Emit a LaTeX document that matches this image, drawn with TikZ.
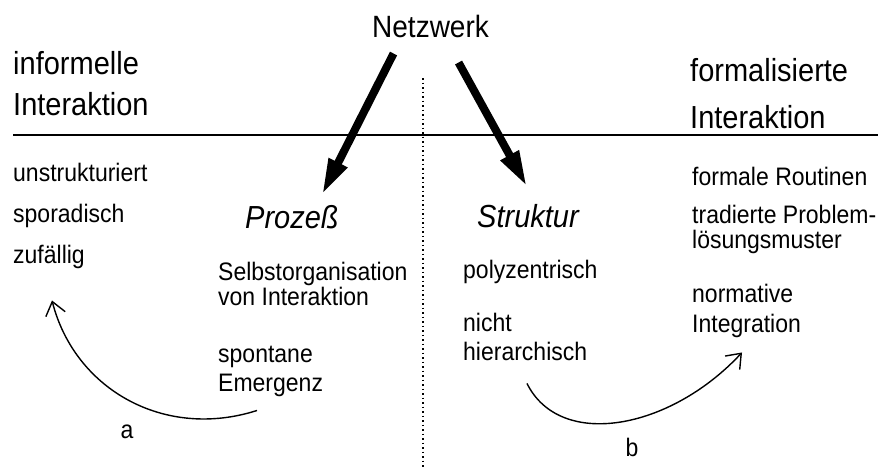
\documentclass[tikz,border=0pt]{standalone}
\usepackage{fontspec}
\setmainfont{Liberation Sans}
\usepackage{tikz}
\usetikzlibrary{arrows.meta}
\usetikzlibrary{positioning}

\begin{document}
\begin{tikzpicture}[
    x=1pt, y=-1pt,
    head/.style={anchor=base west, inner sep=0pt, align=left, yscale=1.1, transform shape, font=\fontsize{29}{36.4}\selectfont},
    body/.style={anchor=base west, inner sep=0pt, align=left, yscale=1.1, transform shape, font=\fontsize{23}{22.7}\selectfont},
    pole/.style={head, font=\fontsize{29}{35}\selectfont\itshape},
    bigarrow/.style={line width=8pt, -{Triangle[length=36pt, width=19pt]}},
    swing/.style={line width=1.4pt, -{Straight Barb[length=13pt, width=20pt]}},
    divider/.style={line width=1.8pt},
    midline/.style={line width=1.3pt, dash pattern=on 1.5pt off 3pt}
]
    \useasboundingbox (0,0) rectangle (878,467);

    % --- Top: Netzwerk and the two poles ---
    % (multi-line nodes sit on the baseline of their last line)
    \node[head, font=\fontsize{28}{30}\selectfont] (netz) at (372,37) {Netzwerk};
    \node[head] (informell) at (13,115) {informelle\\Interaktion};
    \node[head] (formell) at (690,128) {formalisierte\\[5.5pt]Interaktion};

    \draw[divider] (13,135) -- (878,135);
    \draw[midline] (423,78) -- (423,467);

    % --- Left half ---
    \node[body] (ungeordnet) at (13,263) {unstrukturiert\\[14.5pt]sporadisch\\[14.5pt]zufällig};
    \node[pole] (prozess) at (245,228) {Prozeß};
    \node[body] (selbstorg) at (218,305) {Selbstorganisation\\von Interaktion};
    \node[body] (emergenz) at (218,391) {spontane\\[3pt]Emergenz};

    % --- Right half ---
    \node[pole] (struktur) at (477,227) {Struktur};
    \node[body] (polyz) at (463,278) {polyzentrisch};
    \node[body] (nichthier) at (463,360) {nicht\\[3pt]hierarchisch};
    \node[body] (routinen) at (692,185) {formale Routinen};
    \node[body] (tradiert) at (692,248) {tradierte Problem-\\lösungsmuster};
    \node[body] (normativ) at (692,332) {normative\\[4.5pt]Integration};

    % --- Arrows from Netzwerk ---
    \draw[bigarrow] ([shift={(-37,16)}]netz.south) -- ([shift={(30,-10)}]prozess.north);
    \draw[bigarrow] ([shift={(28,25)}]netz.south) -- ([shift={(-1,-17)}]struktur.north);

    % --- Curved arrows a and b ---
    \draw[swing] ([shift={(39,14)}]emergenz.south west) .. controls (165,440) and (75,390) .. ([shift={(39,32)}]ungeordnet.south west);
    \draw[swing] ([shift={(64,23)}]nichthier.south west) .. controls (560,450) and (670,430) .. ([shift={(50,15)}]normativ.south west);
    \node[body, anchor=center] (markA) at (127,432) {a};
    \node[body, anchor=center] (markB) at (632,447) {b};

\end{tikzpicture}
\end{document}
